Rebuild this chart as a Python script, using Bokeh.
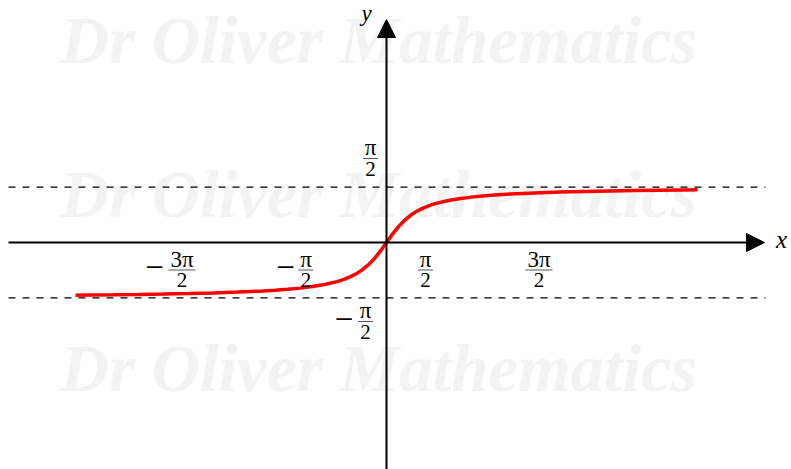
from bokeh.plotting import figure
from bokeh.models import Range1d, Arrow, NormalHead
from bokeh.core.properties import value
from bokeh.embed import file_html
from bokeh.resources import INLINE
import math

# y = arctan(x), sampled on [-4*pi, 4*pi]
curve_x = [-12.566, -12.0, -11.0, -10.0, -9.0, -8.0, -7.0, -6.0, -5.0, -4.5, -4.0,
           -3.5, -3.0, -2.5, -2.0, -1.75, -1.5, -1.25, -1.0, -0.75, -0.5, -0.25,
           0.0, 0.25, 0.5, 0.75, 1.0, 1.25, 1.5, 1.75, 2.0, 2.5, 3.0, 3.5, 4.0,
           4.5, 5.0, 6.0, 7.0, 8.0, 9.0, 10.0, 11.0, 12.0, 12.566]
curve_y = [-1.4914, -1.4877, -1.4801, -1.4711, -1.4601, -1.4464, -1.4289, -1.4056,
           -1.3734, -1.3521, -1.3258, -1.2925, -1.2490, -1.1903, -1.1071, -1.0517,
           -0.9828, -0.8961, -0.7854, -0.6435, -0.4636, -0.2450,
           0.0, 0.2450, 0.4636, 0.6435, 0.7854, 0.8961, 0.9828, 1.0517, 1.1071,
           1.1903, 1.2490, 1.2925, 1.3258, 1.3521, 1.3734, 1.4056, 1.4289, 1.4464,
           1.4601, 1.4711, 1.4801, 1.4877, 1.4914]

# horizontal asymptotes
asymptotes = [math.pi / 2, -math.pi / 2]

# tick labels (sign, numerator, denominator)
x_tick_labels = [("−", "3π", "2"), ("−", "π", "2"), ("", "π", "2"), ("", "3π", "2")]
y_tick_labels = [("", "π", "2"), ("−", "π", "2")]

# ---- layout (screen pixels) ----
W, H = 791, 469
OX, OY = 386.0, 242.0      # origin
SX, SY = 24.75, 35.3       # pixels per unit


def dx(px):
    return (px - OX) / SX


def dy(py):
    return (OY - py) / SY


def put_text(px, base_py, txt, size, color="black", style="normal", align="center"):
    # glyph baseline at base_py (the svg text sits ~1/3 em low, so lift it)
    p.text(x=[dx(px)], y=[dy(base_py - 0.33 * size)], text=[txt],
           text_font=value("Liberation Serif"), text_font_style=style,
           text_font_size=f"{size}px", text_color=color,
           text_align=align, text_baseline="alphabetic")


p = figure(width=W, height=H, output_backend="svg", toolbar_location=None,
           x_range=Range1d(dx(0), dx(W)), y_range=Range1d(dy(H), dy(0)),
           x_axis_location=None, y_axis_location=None, min_border=0,
           background_fill_color="white", border_fill_color="white")
p.grid.visible = False
p.outline_line_color = None

# faint watermark rows
for base in (62, 216, 390):
    put_text(60, base, "Dr Oliver Mathematics", 67, color="#f3f3f3",
             style="bold italic", align="left")

# dashed asymptotes
for a in asymptotes:
    p.line(x=[dx(8), dx(765)], y=[a, a], line_color="black", line_width=1.2,
           line_dash="7 7")

# axes with arrow heads
p.add_layout(Arrow(end=NormalHead(size=18, fill_color="black", line_color="black", line_width=1),
                   x_start=dx(8), y_start=0, x_end=dx(764), y_end=0,
                   line_color="black", line_width=2))
p.add_layout(Arrow(end=NormalHead(size=18, fill_color="black", line_color="black", line_width=1),
                   x_start=0, y_start=dy(H + 2), x_end=0, y_end=dy(19),
                   line_color="black", line_width=2))

# the curve
p.line(x=curve_x, y=curve_y, line_color="#ff0000", line_width=3.5)


def fraction(cx, bar_py, sign, num, den, minus_cx=None):
    wid = 12 * len(num) + 3
    p.line(x=[dx(cx - wid / 2), dx(cx + wid / 2)], y=[dy(bar_py), dy(bar_py)],
           line_color="#444444", line_width=0.9)
    put_text(cx, bar_py - 3, num, 23)
    put_text(cx, bar_py + 17, den, 21)
    if sign:
        put_text(minus_cx, bar_py + 8, sign, 33)


# label anchors in pixels: (fraction centre, bar y, minus centre)
x_label_anchor = [(181.5, 269.5, 154), (305.5, 269.5, 285), (425, 269.5, None), (538.5, 269.5, None)]
y_label_anchor = [(370, 158, None), (365, 321, 343.5)]

for (s, n, d), (cx, by, mx) in zip(x_tick_labels, x_label_anchor):
    fraction(cx, by, s, n, d, mx)
for (s, n, d), (cx, by, mx) in zip(y_tick_labels, y_label_anchor):
    fraction(cx, by, s, n, d, mx)

# axis names
put_text(781, 247, "x", 25, style="italic")
put_text(366, 21, "y", 23, style="italic")

open("out.html", "w").write(file_html(p, INLINE))
